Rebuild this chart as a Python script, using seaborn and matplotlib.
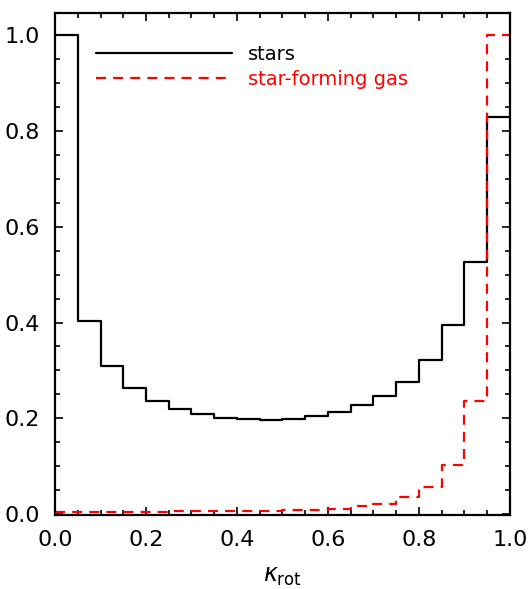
import numpy as np
import pandas as pd
import matplotlib
matplotlib.use("Agg")
import matplotlib.pyplot as plt
import seaborn as sns
from matplotlib.ticker import MultipleLocator

# Data: normalised histograms in kappa_rot bins of width 0.05
bin_edges = [0.00, 0.05, 0.10, 0.15, 0.20, 0.25, 0.30, 0.35, 0.40, 0.45, 0.50,
             0.55, 0.60, 0.65, 0.70, 0.75, 0.80, 0.85, 0.90, 0.95, 1.00]
stars = [1.000, 0.403, 0.310, 0.264, 0.237, 0.220, 0.209, 0.201, 0.1975, 0.197,
         0.199, 0.204, 0.2135, 0.227, 0.246, 0.276, 0.322, 0.395, 0.526, 0.830]
sf_gas = [0.005, 0.005, 0.005, 0.005, 0.005, 0.006, 0.006, 0.006, 0.007, 0.007,
          0.008, 0.009, 0.011, 0.016, 0.021, 0.035, 0.057, 0.103, 0.237, 1.000]
series_labels = ["stars", "star-forming gas"]

edges = np.array(bin_edges)
centers = 0.5 * (edges[:-1] + edges[1:])
df_stars = pd.DataFrame({"kappa": centers, "frac": stars})
df_gas = pd.DataFrame({"kappa": centers, "frac": sf_gas})

sns.set_style("white")
plt.rcParams["font.family"] = ["DejaVu Sans"]
plt.rcParams["text.color"] = "black"
plt.rcParams["xtick.color"] = "black"
plt.rcParams["ytick.color"] = "black"
plt.rcParams["axes.labelcolor"] = "black"

fig = plt.figure(figsize=(5.29, 5.89), dpi=100)
ax = fig.add_axes([0.104, 0.1256, 0.860, 0.852])

sns.histplot(data=df_stars, x="kappa", weights="frac",
             bins=list(bin_edges), element="step", fill=False, color="black",
             linewidth=1.6, ax=ax, label=series_labels[0])
sns.histplot(data=df_gas, x="kappa", weights="frac",
             bins=list(bin_edges), element="step", fill=False, color="red",
             linewidth=1.6, linestyle=(0, (4.5, 3.2)), ax=ax, label=series_labels[1])

ax.set_xlim(0, 1)
ax.set_ylim(-0.002, 1.046)
ax.xaxis.set_major_locator(MultipleLocator(0.2))
ax.xaxis.set_minor_locator(MultipleLocator(0.05))
ax.yaxis.set_major_locator(MultipleLocator(0.2))
ax.yaxis.set_minor_locator(MultipleLocator(0.05))
ax.tick_params(which="both", direction="in", top=True, right=True, bottom=True, left=True,
               width=1.2, color="black", labelcolor="black")
ax.tick_params(which="major", length=6, labelsize=16, pad=11)
ax.tick_params(which="minor", length=3.5)
for s in ax.spines.values():
    s.set_linewidth(1.6)
    s.set_color("black")

ax.set_ylabel("")
ax.set_xlabel(r"$\kappa_{\rm rot}$", fontsize=17, labelpad=10, color="black")

leg = ax.legend(loc="upper left", bbox_to_anchor=(0.052, 0.972), frameon=False,
                fontsize=14, handlelength=7.0, handletextpad=0.8, labelspacing=0.3)
for txt, col in zip(leg.get_texts(), ["black", "red"]):
    txt.set_color(col)

fig.savefig("out.png", dpi=100)
